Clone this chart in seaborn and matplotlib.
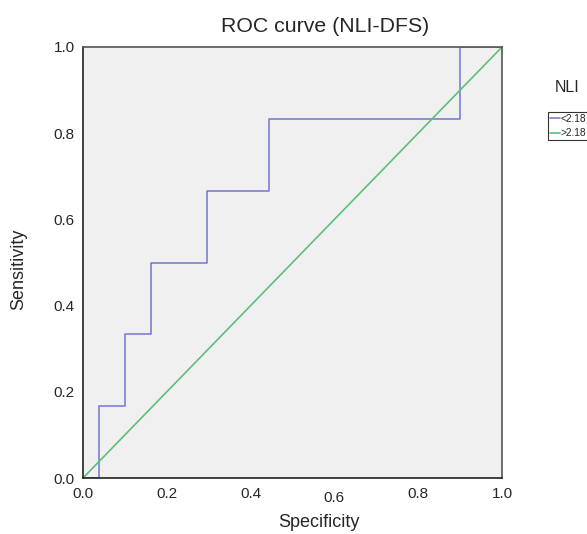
import numpy as np
import pandas as pd
import matplotlib
matplotlib.use("Agg")
import matplotlib.pyplot as plt
import seaborn as sns

# ROC step points
specificity = [0.0, 0.038, 0.10, 0.163, 0.295, 0.445, 0.90, 1.0]
sensitivity = [0.0, 0.167, 0.333, 0.50, 0.667, 0.833, 1.0, 1.0]
ref_x = [0.0, 1.0]
ref_y = [0.0, 1.0]
ticks = [0.0, 0.2, 0.4, 0.6, 0.8, 1.0]
series_names = ["<2.18", ">2.18"]

sns.set_style("white")
plt.rcParams["font.family"] = ["Liberation Sans", "DejaVu Sans"]

fig = plt.figure(figsize=(5.87, 5.34), dpi=100)
ax = fig.add_axes([83 / 587, 1 - 478 / 534, 419 / 587, 431 / 534])
ax.set_facecolor("#f0f0f0")

roc = pd.DataFrame({"x": specificity, "y": sensitivity})
diag = pd.DataFrame({"x": ref_x, "y": ref_y})
sns.lineplot(data=roc, x="x", y="y", ax=ax, color="#7c80cf", lw=1.2,
             drawstyle="steps-post", label=series_names[0], estimator=None, sort=False)
sns.lineplot(data=diag, x="x", y="y", ax=ax, color="#5dbf7b", lw=1.2,
             label=series_names[1], estimator=None, sort=False)

ax.set_xlim(0, 1)
ax.set_ylim(0, 1)
ax.set_xticks(ticks)
ax.set_yticks(ticks)
ax.set_xticklabels([f"{t:.1f}" for t in ticks], fontsize=11)
ax.set_yticklabels([f"{t:.1f}" for t in ticks], fontsize=11)
ax.tick_params(axis="y", direction="out", length=6, width=1, color="#222222", pad=0)
ax.tick_params(axis="x", direction="out", length=4.3, width=1, color="#222222", pad=2)
# the 0.6 label sits a bit lower in the original
ax.get_xticklabels()[3].set_y(-0.01)

for side in ["left", "bottom"]:
    ax.spines[side].set_color("#222222")
    ax.spines[side].set_linewidth(1.2)
for side in ["top", "right"]:
    ax.spines[side].set_color("#555555")
    ax.spines[side].set_linewidth(1.2)

ax.set_xlabel("Specificity", fontsize=13)
ax.xaxis.set_label_coords(0.563, -0.083)
ax.set_ylabel("Sensitivity", fontsize=13)
ax.yaxis.set_label_coords(-0.132, 0.485)
ax.set_title("ROC curve (NLI-DFS)", fontsize=15.3, x=0.579, pad=11)

leg = ax.legend(loc="upper left", bbox_to_anchor=(548 / 587, 1 - 112 / 534),
                bbox_transform=fig.transFigure,
                frameon=True, fancybox=False, fontsize=7.3,
                handlelength=1.0, handletextpad=0.1, borderpad=0.15,
                labelspacing=0.45, borderaxespad=0)
leg.get_frame().set_edgecolor("black")
leg.get_frame().set_linewidth(0.8)
fig.text(567 / 587, 1 - 88 / 534, "NLI", fontsize=11.5, ha="center", va="center")

fig.savefig("out.png", dpi=100)
